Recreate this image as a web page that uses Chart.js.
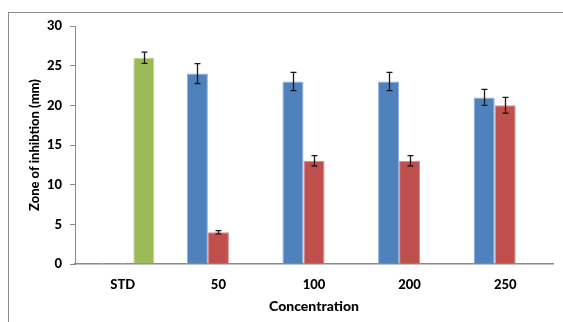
<!DOCTYPE html>
<html>
<head>
<meta charset="utf-8">
<script src="https://cdn.jsdelivr.net/npm/chart.js@4/dist/chart.umd.min.js"></script>
<style>
html,body{margin:0;padding:0;background:#fff;}
canvas{display:block;}
</style>
</head>
<body>
<canvas id="c" width="563" height="322"></canvas>
<script>
const categories = ["STD", "50", "100", "200", "250"];
const seriesBlue = [0, 24, 23, 23, 21];
const seriesRed = [0, 4, 13, 13, 20];
const seriesGreen = [26, null, null, null, null];
const errBlue = [0, 1.25, 1.15, 1.15, 1.0];
const errRed = [0, 0.2, 0.65, 0.65, 1.0];
const errGreen = [0.7, null, null, null, null];
const yTicks = [0, 5, 10, 15, 20, 25, 30];
const xTitle = "Concentration";
const yTitle = "Zone of inhibtion (mm)";

const FONT = "Lato, 'Liberation Sans', sans-serif";

const errorBars = {
  id: 'errorBars',
  afterDatasetsDraw(chart) {
    const ctx = chart.ctx;
    const y = chart.scales.y;
    const errs = [errBlue, errRed, errGreen];
    ctx.save();
    ctx.strokeStyle = '#1a1a1a';
    ctx.lineWidth = 1.3;
    chart.data.datasets.forEach((ds, di) => {
      const meta = chart.getDatasetMeta(di);
      meta.data.forEach((bar, i) => {
        const v = ds.data[i];
        const e = errs[di][i];
        if (v == null) return;
        if (v === 0) {
          // Excel shows a hairline for zero-height bars
          ctx.save();
          ctx.strokeStyle = '#9a9a9a';
          ctx.lineWidth = 1;
          const yz = y.getPixelForValue(0) - 0.5;
          ctx.beginPath();
          ctx.moveTo(bar.x - 2, yz); ctx.lineTo(bar.x + 2, yz);
          ctx.stroke();
          ctx.restore();
          return;
        }
        if (!e) return;
        const x = Math.round(bar.x) + 0.5;
        const yt = y.getPixelForValue(v + e);
        const yb = y.getPixelForValue(v - e);
        ctx.beginPath();
        ctx.moveTo(x, yt); ctx.lineTo(x, yb);
        ctx.moveTo(x - 3, yt); ctx.lineTo(x + 3, yt);
        ctx.moveTo(x - 3, yb); ctx.lineTo(x + 3, yb);
        ctx.stroke();
      });
    });
    ctx.restore();
  }
};

const frame = {
  id: 'frame',
  beforeDraw(chart) {
    const ctx = chart.ctx;
    ctx.save();
    ctx.fillStyle = '#fff';
    ctx.fillRect(0, 0, chart.width, chart.height);
    ctx.strokeStyle = '#8c8c8c';
    ctx.lineWidth = 1;
    ctx.strokeRect(8.5, 12.5, chart.width + 10, chart.height + 10);
    ctx.restore();
  }
};

new Chart(document.getElementById('c'), {
  type: 'bar',
  data: {
    labels: categories,
    datasets: [
      { data: seriesBlue, backgroundColor: '#4F81BD', borderColor: '#8eb0da', borderWidth: 1 },
      { data: seriesRed, backgroundColor: '#C0504D', borderColor: '#d98c8a', borderWidth: 1 },
      { data: seriesGreen, backgroundColor: '#9BBB59', borderColor: '#bcd48e', borderWidth: 1 }
    ]
  },
  options: {
    responsive: false,
    animation: false,
    layout: { padding: { top: 26, right: 10, left: 0, bottom: 0 } },
    plugins: { legend: { display: false }, tooltip: { enabled: false } },
    datasets: { bar: { categoryPercentage: 0.66, barPercentage: 1.0 } },
    scales: {
      x: {
        grid: { display: false, drawTicks: false },
        border: { display: true, color: '#8a8a8a', width: 1.5 },
        ticks: { color: '#000', padding: 13, font: { family: FONT, size: 13, weight: '900' } },
        title: { display: true, text: xTitle, color: '#000', padding: { top: 0, bottom: 7 },
                 font: { family: FONT, size: 14, weight: '900' } },
        afterFit(s) { s.height = 58; }
      },
      y: {
        min: 0, max: 30,
        afterBuildTicks(s) { s.ticks = yTicks.map(v => ({ value: v })); },
        grid: { display: true, drawOnChartArea: false, drawTicks: true, tickLength: 5, color: '#8a8a8a' },
        border: { display: true, color: '#8a8a8a', width: 1 },
        ticks: { color: '#000', padding: 8, font: { family: FONT, size: 13, weight: '900' } },
        title: { display: true, text: yTitle, color: '#000', padding: { top: 27, bottom: 0 },
                 font: { family: FONT, size: 13, weight: '900' } },
        afterFit(s) { s.width = 75; }
      }
    }
  },
  plugins: [frame, errorBars]
});
</script>
</body>
</html>
